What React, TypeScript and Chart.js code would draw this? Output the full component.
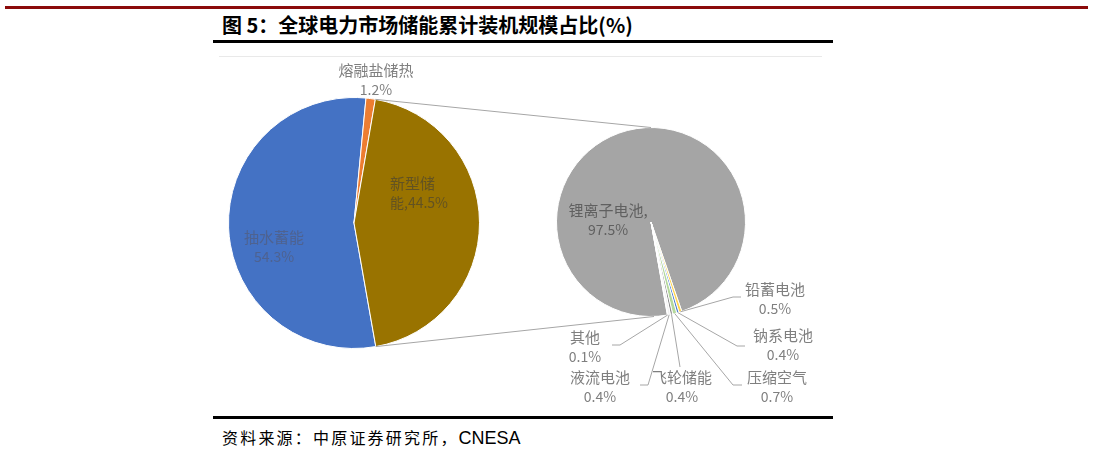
import React, { useEffect, useRef } from 'react';
import { Chart, registerables } from 'chart.js';

Chart.register(...registerables);

// ---- data ----
const mainCategories = ['抽水蓄能', '熔融盐储热', '新型储能'];
const mainValues = [54.3, 1.2, 44.5];
const mainColors = ['#4472C4', '#ED7D31', '#997300'];

const subCategories = ['锂离子电池', '铅蓄电池', '钠系电池', '压缩空气', '飞轮储能', '液流电池', '其他'];
const subValues = [97.5, 0.5, 0.4, 0.7, 0.4, 0.4, 0.1];
const subColors = ['#A5A5A5', '#FFD54F', '#4F7FD0', '#B5D99C', '#8C8C8C', '#F2F2F2', '#E6E6E6'];

const titleText = '图 5：全球电力市场储能累计装机规模占比(%)';
const sourceCn = '资料来源：中原证券研究所，';
const sourceEn = 'CNESA';

// ---- layout (offsets from each pie centre) ----
type LabelLayout = { dx: number; dy: number; color: string; align?: CanvasTextAlign; wrapAt?: number; sep?: string };
const mainLabelLayout: LabelLayout[] = [
  { dx: -80, dy: 14, color: '#4E6290' },
  { dx: 22, dy: -153, color: '#7F7F7F' },
  { dx: 36, dy: -40, color: '#625222', align: 'left', wrapAt: 3 },
];
const subLabelLayout: LabelLayout[] = [
  { dx: -43, dy: -12, color: '#606060', sep: ',' },
  { dx: 124, dy: 67, color: '#7F7F7F' },
  { dx: 132, dy: 113, color: '#7F7F7F' },
  { dx: 126, dy: 155, color: '#7F7F7F' },
  { dx: 31, dy: 155, color: '#7F7F7F' },
  { dx: -51, dy: 155, color: '#7F7F7F' },
  { dx: -66, dy: 115, color: '#7F7F7F' },
];
type Leader = { elbow: [number, number] | null; end: [number, number] } | null;
const subLeaders: Leader[] = [
  null,
  { elbow: [82, 75], end: [90, 75] },
  { elbow: [86, 124], end: [94, 124] },
  { elbow: [82, 163], end: [91, 163] },
  { elbow: null, end: [29, 145] },
  { elbow: [-3, 163], end: [-11, 163] },
  { elbow: [-31, 123], end: [-39, 123] },
];

const CJK = "'Noto Sans CJK SC', 'Noto Sans', sans-serif";

function labelLines(name: string, value: number, l: LabelLayout): string[] {
  const pct = value.toFixed(1) + '%';
  if (l.wrapAt) return [name.slice(0, l.wrapAt), name.slice(l.wrapAt) + ',' + pct];
  if (l.sep) return [name + l.sep, pct];
  return [name, pct];
}

function drawLabels(chart: any, names: string[], values: number[], layout: LabelLayout[]) {
  const meta = chart.getDatasetMeta(0);
  const c = meta.data[0];
  const ctx: CanvasRenderingContext2D = chart.ctx;
  ctx.save();
  ctx.textBaseline = 'middle';
  names.forEach((n, i) => {
    const l = layout[i];
    const lines = labelLines(n, values[i], l);
    ctx.fillStyle = l.color;
    ctx.textAlign = l.align || 'center';
    lines.forEach((t, k) => {
      ctx.font = (k === 0 ? '15px ' : '14px ') + CJK;
      ctx.fillText(t, c.x + l.dx, c.y + l.dy + k * 20);
    });
  });
  ctx.restore();
}

export default function App() {
  const c1 = useRef<HTMLCanvasElement>(null);
  const c2 = useRef<HTMLCanvasElement>(null);

  useEffect(() => {
    const chart1 = new Chart(c1.current as HTMLCanvasElement, {
      type: 'pie',
      data: {
        labels: mainCategories,
        datasets: [{ data: mainValues, backgroundColor: mainColors, borderColor: '#ffffff', borderWidth: 1 }],
      },
      options: {
        animation: false,
        responsive: false,
        rotation: 170,
        layout: { padding: { left: 9, right: 342, top: 41, bottom: 63 } },
        plugins: { legend: { display: false }, tooltip: { enabled: false } },
      },
      plugins: [
        {
          id: 'mainLabels',
          afterDraw(chart: any) {
            drawLabels(chart, mainCategories, mainValues, mainLabelLayout);
          },
        },
      ],
    } as any);

    const chart2 = new Chart(c2.current as HTMLCanvasElement, {
      type: 'pie',
      data: {
        labels: subCategories,
        datasets: [{ data: subValues, backgroundColor: subColors, borderColor: '#ffffff', borderWidth: 1 }],
      },
      options: {
        animation: false,
        responsive: false,
        rotation: 170,
        layout: { padding: { left: 337, right: 76, top: 71, bottom: 95 } },
        plugins: { legend: { display: false }, tooltip: { enabled: false } },
      },
      plugins: [
        {
          id: 'subDecor',
          afterDraw(chart: any) {
            const ctx: CanvasRenderingContext2D = chart.ctx;
            const meta = chart.getDatasetMeta(0);
            const a0 = meta.data[0].getProps(['x', 'y', 'outerRadius'], true);
            const cx = a0.x, cy = a0.y, r = a0.outerRadius;
            // connector lines from the split slice of the main pie
            const m1 = chart1.getDatasetMeta(0);
            const g = m1.data[2].getProps(['x', 'y', 'startAngle', 'endAngle', 'outerRadius'], true) as any;
            ctx.save();
            ctx.strokeStyle = '#A6A6A6';
            ctx.lineWidth = 1;
            ctx.beginPath();
            ctx.moveTo(g.x + g.outerRadius * Math.cos(g.startAngle), g.y + g.outerRadius * Math.sin(g.startAngle));
            ctx.lineTo(cx, cy - r);
            ctx.moveTo(g.x + g.outerRadius * Math.cos(g.endAngle), g.y + g.outerRadius * Math.sin(g.endAngle));
            ctx.lineTo(cx + 3, cy + r);
            ctx.stroke();
            // leader lines
            meta.data.forEach((el: any, i: number) => {
              const ld = subLeaders[i];
              if (!ld) return;
              const p = el.getProps(['startAngle', 'endAngle', 'outerRadius'], true);
              const mid = (p.startAngle + p.endAngle) / 2;
              ctx.beginPath();
              ctx.moveTo(cx + p.outerRadius * Math.cos(mid), cy + p.outerRadius * Math.sin(mid));
              if (ld.elbow) ctx.lineTo(cx + ld.elbow[0], cy + ld.elbow[1]);
              ctx.lineTo(cx + ld.end[0], cy + ld.end[1]);
              ctx.stroke();
            });
            ctx.restore();
            drawLabels(chart, subCategories, subValues, subLabelLayout);
          },
        },
      ],
    } as any);

    return () => {
      chart2.destroy();
      chart1.destroy();
    };
  }, []);

  const abs = (s: React.CSSProperties): React.CSSProperties => ({ position: 'absolute', ...s });

  return (
    <div style={abs({ left: 0, top: 0, width: 1094, height: 451, background: '#fff', overflow: 'hidden' })}>
      <div style={abs({ left: 5, top: 6, width: 1083, height: 3, background: '#8B0A0A' })} />
      <div
        style={abs({
          left: 222,
          top: 13,
          height: 24,
          lineHeight: '24px',
          fontFamily: CJK,
          fontWeight: 700,
          fontSize: 20,
          color: '#000',
          whiteSpace: 'nowrap',
        })}
      >
        {titleText}
      </div>
      <div style={abs({ left: 213, top: 40, width: 620, height: 3, background: '#000' })} />
      <div style={abs({ left: 219, top: 56, width: 603, height: 1, background: '#E9E9E9' })} />
      <canvas ref={c1} width={603} height={356} style={abs({ left: 219, top: 56, width: 603, height: 356 })} />
      <canvas ref={c2} width={603} height={356} style={abs({ left: 219, top: 56, width: 603, height: 356 })} />
      <div style={abs({ left: 213, top: 416, width: 620, height: 3, background: '#000' })} />
      <div
        style={abs({
          left: 222,
          top: 426,
          height: 22,
          lineHeight: '22px',
          whiteSpace: 'nowrap',
          color: '#000',
        })}
      >
        <span style={{ fontFamily: CJK, fontSize: 16, letterSpacing: '2.2px' }}>{sourceCn}</span>
        <span style={{ fontFamily: "'Liberation Sans', Arial, sans-serif", fontSize: 18 }}>{sourceEn}</span>
      </div>
    </div>
  );
}
